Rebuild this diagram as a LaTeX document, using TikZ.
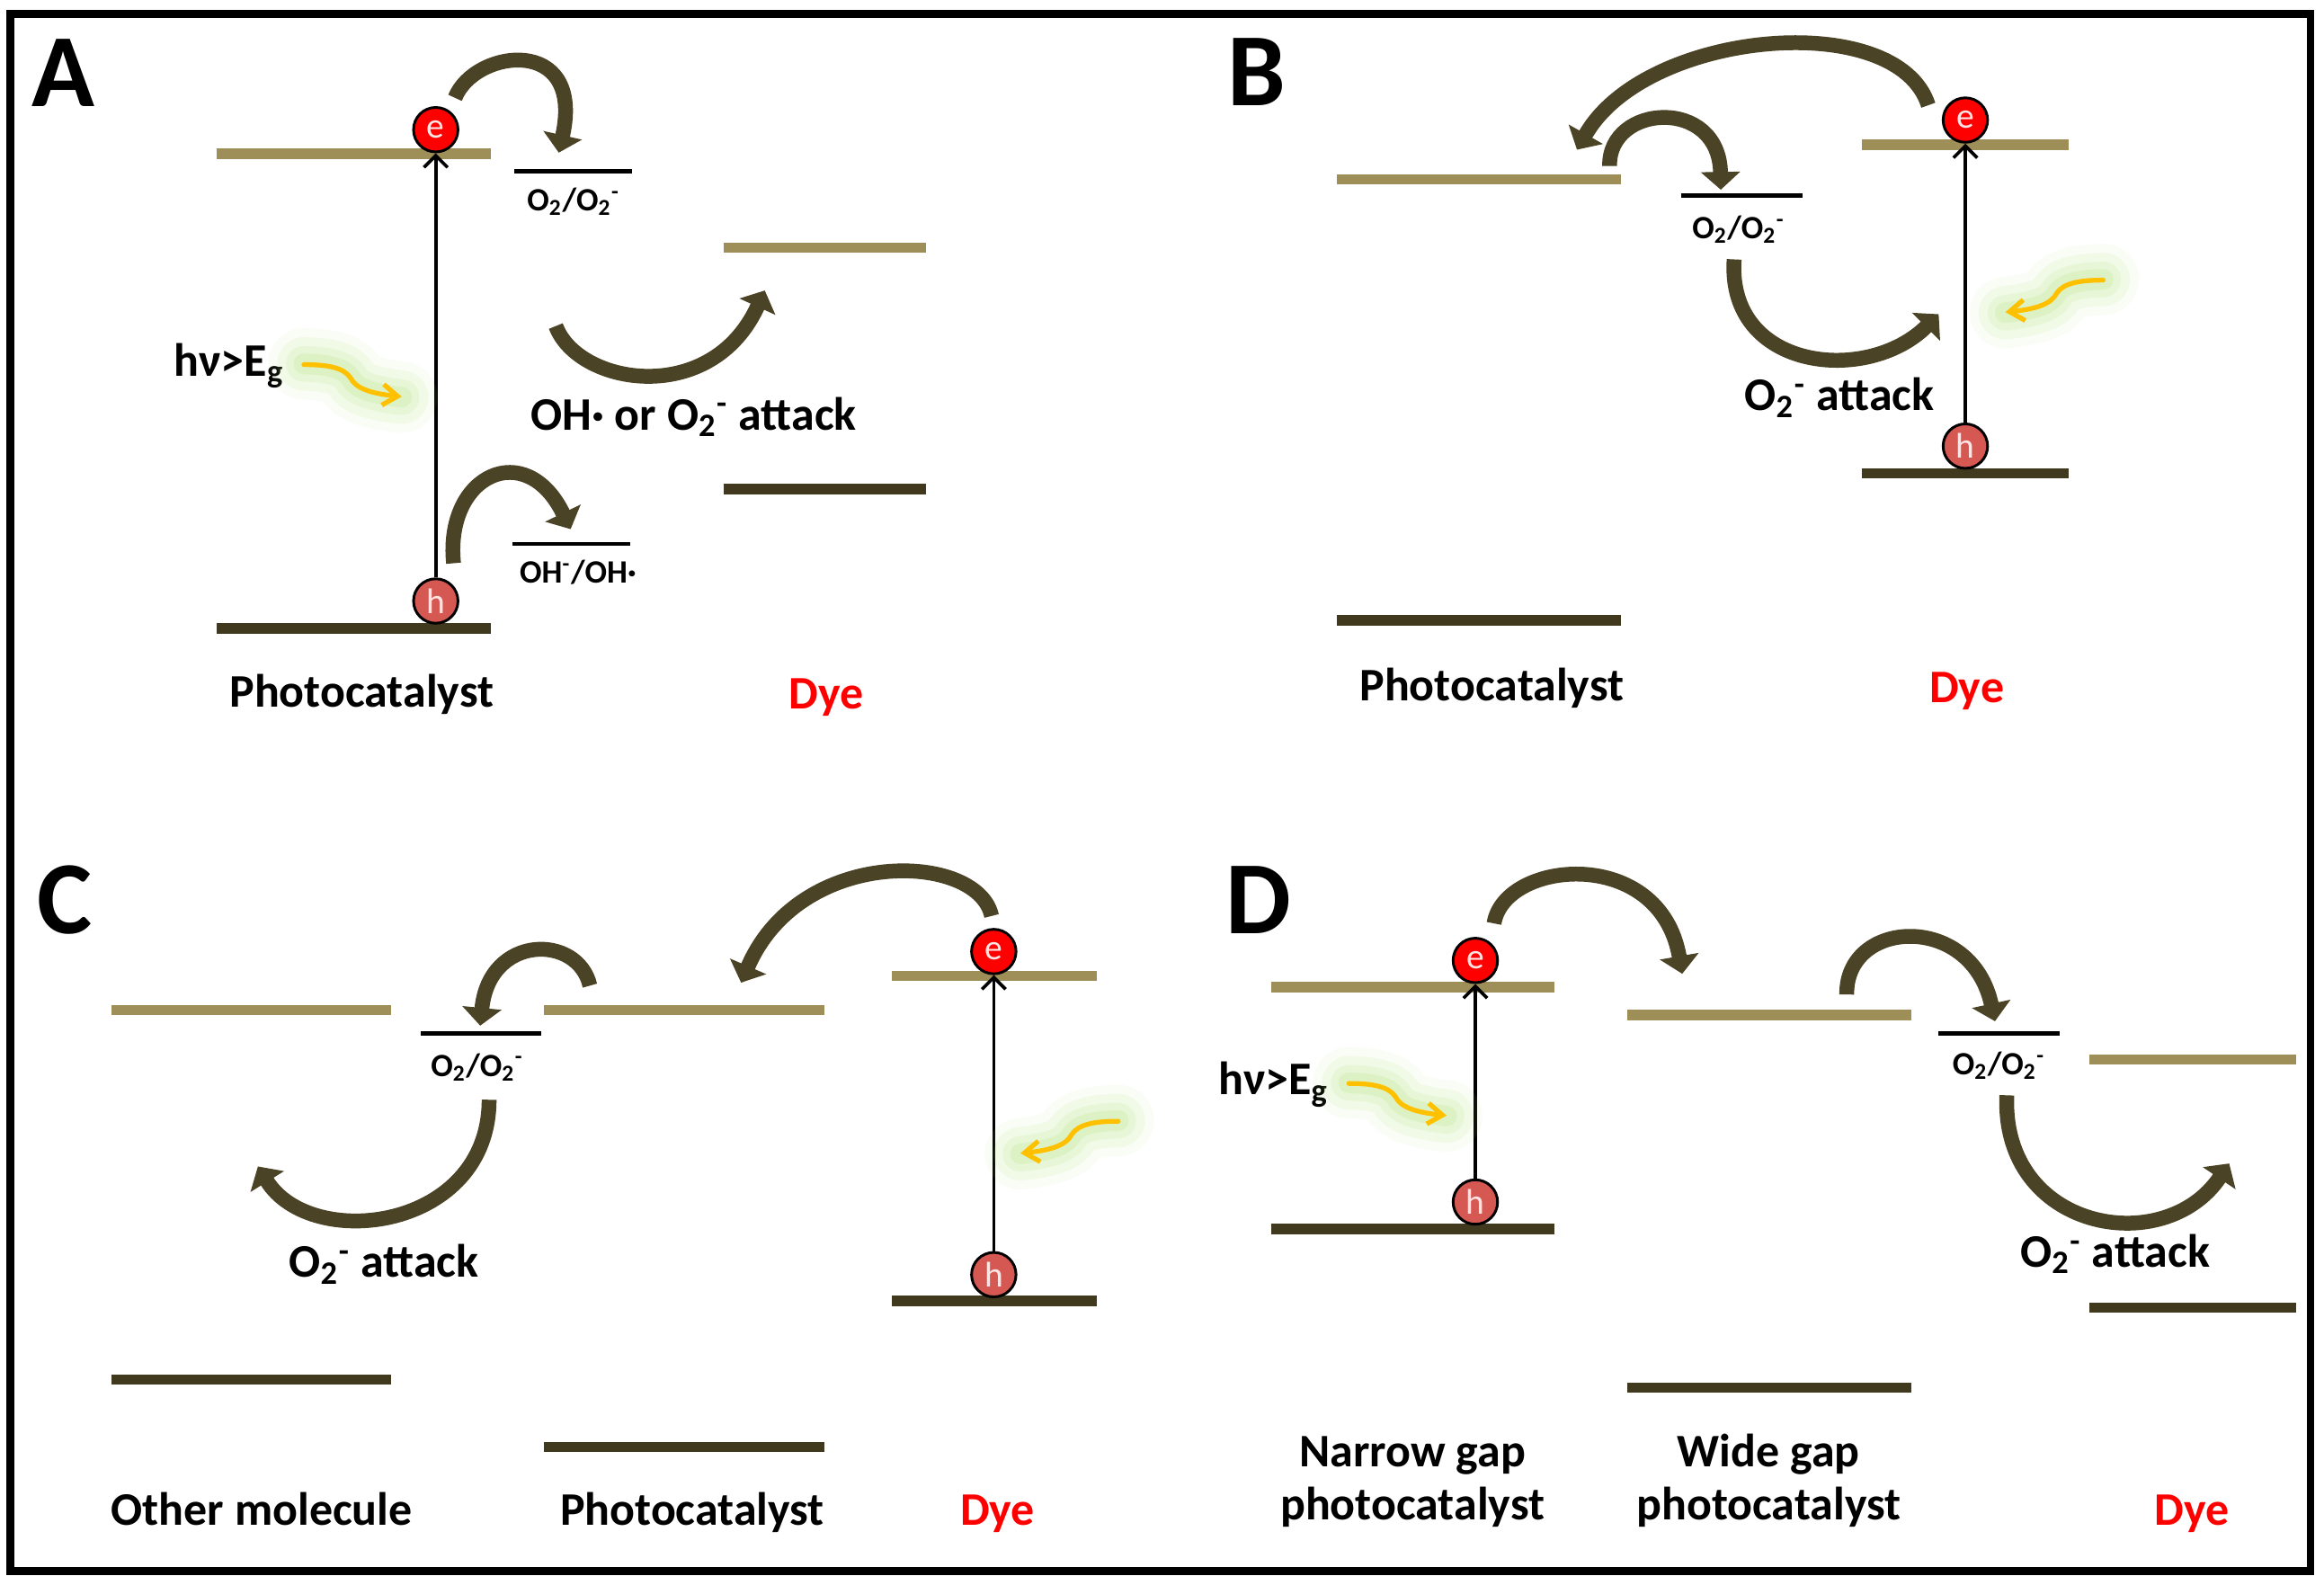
\documentclass[tikz,border=0pt]{standalone}
\usepackage{fontspec}
\setmainfont{Carlito}
\usetikzlibrary{arrows.meta}
\definecolor{cbcol}{RGB}{158,142,88}
\definecolor{vbcol}{RGB}{64,57,30}
\definecolor{arrcol}{RGB}{74,67,38}
\definecolor{ecol}{RGB}{255,0,0}
\definecolor{hcol}{RGB}{214,88,82}
\definecolor{phcol}{RGB}{255,192,0}
\definecolor{glowcol}{RGB}{175,228,115}
\definecolor{lettercol}{RGB}{255,228,228}
\newcommand\Otwo{O\textsubscript{2}}
\newcommand\Otwom{O\textsubscript{2}\textsuperscript{-}}
\newcommand\photon[3]{%
  \begin{scope}[shift={(#1,#2)}, xscale=#3]
    \foreach \w/\o in {24pt/0.07, 18pt/0.10, 12pt/0.14, 7pt/0.18}
      \draw[glowcol, line width=\w, opacity=\o, line cap=round]
        (0,-0.5) .. controls (16,0) and (27,2) .. (31.5,9) .. controls (35,16) and (45,19.5) .. (66,22);
    \draw[phcol, line width=1.6pt, line cap=round, -{Straight Barb[length=5pt,width=7pt]}]
      (0,0) .. controls (16,0) and (27,2) .. (31.5,9) .. controls (35,16) and (45,19.5) .. (66,21.6);
  \end{scope}}
\tikzset{
  cb/.style={draw=cbcol, line width=3.5pt},
  vb/.style={draw=vbcol, line width=3.5pt},
  redox/.style={draw=black, line width=1.4pt},
  transfer/.style={draw=arrcol, line width=5pt, -{Triangle[length=6pt,width=13pt]}},
  excite/.style={draw=black, line width=1.1pt, -{Straight Barb[length=4pt,width=8pt]}},
  ecirc/.style={circle, draw=black, line width=0.9pt, fill=ecol, minimum size=15pt, inner sep=0pt, text=lettercol, font=\fontsize{12}{12}\selectfont},
  hcirc/.style={ecirc, fill=hcol},
  lbl/.style={font=\fontsize{15.75}{18}\selectfont\bfseries, inner sep=0pt, anchor=base},
  dye/.style={lbl, text=ecol},
  redoxlbl/.style={font=\fontsize{11}{12}\selectfont\bfseries, inner sep=0pt},
  panel/.style={font=\fontsize{35}{40}\selectfont\bfseries, inner sep=0pt, anchor=base west},
}
\begin{document}
\begin{tikzpicture}[x=0.5pt, y=-0.5pt]
\fill[white] (0,0) rectangle (1568,1069);
\useasboundingbox (0,0) rectangle (1568,1069);
\draw[line width=2.5pt] (7,9.4) rectangle (1559,1060);

% ---------------- Panel A ----------------
\node[panel] (A-lab) at (21,71.8) {A};
\draw[cb] (146,103.8) -- (331,103.8);
\draw[vb] (146,424) -- (331,424);
\draw[cb] (488,167.2) -- (624.5,167.2);
\draw[vb] (488,330) -- (624.5,330);
\draw[redox] (347,115.7) -- (426.5,115.7);
\draw[redox] (346,367) -- (425,367);
\node[redoxlbl] (A-o2) at (387,136) {\Otwo/\Otwom};
\node[redoxlbl] (A-oh) at (390,386) {OH\textsuperscript{-}/OH·};
\node[ecirc] (A-e) at (294,87.5) {e};
\node[hcirc] (A-h) at (294,405.5) {h};
\draw[excite] (A-h) -- (A-e);
\coordinate (A-t1) at (307,66);  \coordinate (A-h1) at (377,103);
\draw[transfer] (A-t1) .. controls (320,33) and (395,23) .. (A-h1);
\coordinate (A-t2) at (306,380); \coordinate (A-h2) at (385,357);
\draw[transfer] (A-t2) .. controls (300,320) and (355,295) .. (A-h2);
\coordinate (A-t3) at (375,220); \coordinate (A-h3) at (516,196);
\draw[transfer] (A-t3) .. controls (390,260) and (480,275) .. (A-h3);
\node[lbl, anchor=base west] (A-hv) at (117,253.7) {hν>E\textsubscript{g}};
\photon{205}{246}{1}
\node[lbl] (A-att) at (468,290) {OH· or \Otwom\ attack};
\node[lbl] (A-pc) at (244,477) {Photocatalyst};
\node[dye] (A-dye) at (557.5,478) {Dye};

% ---------------- Panel B ----------------
\node[panel] (B-lab) at (828,71.5) {B};
\draw[cb] (901.7,121) -- (1093.5,121);
\draw[vb] (901.7,418.7) -- (1093.5,418.7);
\draw[cb] (1256,97.7) -- (1396,97.7);
\draw[vb] (1256,319.3) -- (1396,319.3);
\draw[redox] (1134,132) -- (1216,132);
\node[redoxlbl] (B-o2) at (1173,155) {\Otwo/\Otwom};
\node[ecirc] (B-e) at (1326,81) {e};
\node[hcirc] (B-h) at (1326,301) {h};
\draw[excite] (B-h) -- (B-e);
\coordinate (B-t1) at (1301,71);  \coordinate (B-h1) at (1064,101);
\draw[transfer] (B-t1) .. controls (1280,5) and (1110,20) .. (B-h1);
\coordinate (B-t2) at (1086,112); \coordinate (B-h2) at (1161,128);
\draw[transfer] (B-t2) .. controls (1085,70) and (1160,65) .. (B-h2);
\coordinate (B-t3) at (1170,175); \coordinate (B-h3) at (1308,212);
\draw[transfer] (B-t3) .. controls (1165,250) and (1260,260) .. (B-h3);
\photon{1419}{189}{-1}
\node[lbl] (B-att) at (1241,277) {\Otwom\ attack};
\node[lbl] (B-pc) at (1006.5,473) {Photocatalyst};
\node[dye] (B-dye) at (1327,474) {Dye};

% ---------------- Panel C ----------------
\node[panel] (C-lab) at (25,630) {C};
\draw[cb] (75.5,681.4) -- (264,681.4);
\draw[vb] (75.5,930.7) -- (264,930.7);
\draw[redox] (284,697.1) -- (365,697.1);
\draw[cb] (367,681.4) -- (556,681.4);
\draw[vb] (367,976.2) -- (556,976.2);
\draw[cb] (602,658.5) -- (740,658.5);
\draw[vb] (602,877.8) -- (740,877.8);
\node[redoxlbl] (C-o2) at (322,720) {\Otwo/\Otwom};
\node[ecirc] (C-e) at (670.5,642) {e};
\node[hcirc] (C-h) at (670.5,860) {h};
\draw[excite] (C-h) -- (C-e);
\coordinate (C-t1) at (669,618); \coordinate (C-h1) at (500,663);
\draw[transfer] (C-t1) .. controls (660,575) and (540,570) .. (C-h1);
\coordinate (C-t2) at (398,665); \coordinate (C-h2) at (324,692);
\draw[transfer] (C-t2) .. controls (390,630) and (330,630) .. (C-h2);
\coordinate (C-t3) at (330,742); \coordinate (C-h3) at (174,787);
\draw[transfer] (C-t3) .. controls (330,830) and (210,845) .. (C-h3);
\photon{754.5}{756.5}{-1}
\node[lbl] (C-att) at (259,861.7) {\Otwom\ attack};
\node[lbl] (C-om) at (176.7,1029) {Other molecule};
\node[lbl] (C-pc) at (467,1029) {Photocatalyst};
\node[dye] (C-dye) at (673,1029) {Dye};

% ---------------- Panel D ----------------
\node[panel] (D-lab) at (826.6,630) {D};
\draw[cb] (857.6,666) -- (1049,666);
\draw[vb] (857.6,829.3) -- (1049,829.3);
\draw[cb] (1098,684.8) -- (1289.5,684.8);
\draw[vb] (1098,936.2) -- (1289.5,936.2);
\draw[redox] (1307.6,697.1) -- (1389.7,697.1);
\draw[cb] (1409.7,714.9) -- (1549,714.9);
\draw[vb] (1409.7,882.2) -- (1549,882.2);
\node[redoxlbl] (D-o2) at (1348.6,719) {\Otwo/\Otwom};
\node[ecirc] (D-e) at (995.4,648) {e};
\node[hcirc] (D-h) at (995.4,811) {h};
\draw[excite] (D-h) -- (D-e);
\coordinate (D-t1) at (1008,623); \coordinate (D-h1) at (1135,657);
\draw[transfer] (D-t1) .. controls (1015,580) and (1120,570) .. (D-h1);
\coordinate (D-t2) at (1246,671); \coordinate (D-h2) at (1346,689);
\draw[transfer] (D-t2) .. controls (1245,620) and (1330,615) .. (D-h2);
\coordinate (D-t3) at (1354,739); \coordinate (D-h3) at (1504,785);
\draw[transfer] (D-t3) .. controls (1350,830) and (1460,850) .. (D-h3);
\node[lbl, anchor=base west] (D-hv) at (821.6,738.8) {hν>E\textsubscript{g}};
\photon{910}{731}{1}
\node[lbl] (D-att) at (1427,854.9) {\Otwom\ attack};
\node[lbl] (D-ng1) at (953,989.8) {Narrow gap};
\node[lbl] (D-ng2) at (953,1025.7) {photocatalyst};
\node[lbl] (D-wg1) at (1193.3,989.8) {Wide gap};
\node[lbl] (D-wg2) at (1193.3,1025.7) {photocatalyst};
\node[dye] (D-dye) at (1479,1029) {Dye};
\end{tikzpicture}
\end{document}
